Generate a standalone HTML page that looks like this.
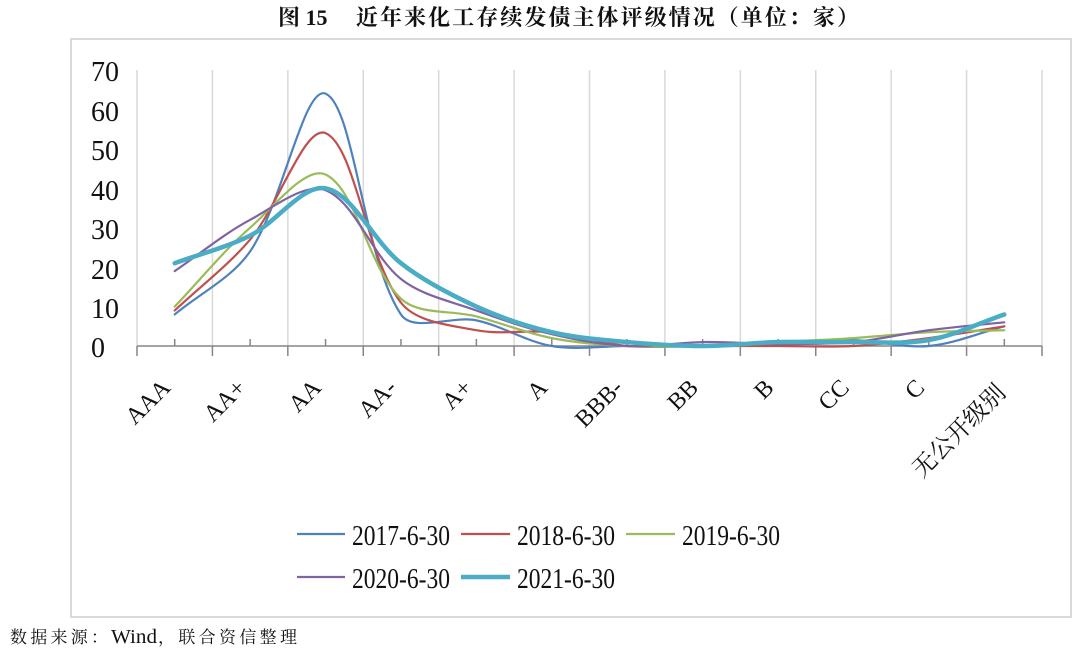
<!DOCTYPE html>
<html>
<head>
<meta charset="utf-8">
<style>
  html, body { margin:0; padding:0; background:#fff; }
  body { width:1080px; height:653px; overflow:hidden; }
  svg { display:block; }
  .ser { font-family:"Liberation Serif","Noto Serif CJK SC",serif; }
</style>
</head>
<body>
<svg id="chart" width="1080" height="653" viewBox="0 0 1080 653" xmlns="http://www.w3.org/2000/svg">
  <rect x="0" y="0" width="1080" height="653" fill="#ffffff"/>
  <!-- title -->
  <text x="278" y="25" class="ser" font-size="22" font-weight="bold" fill="#111">图 15</text>
  <text x="356" y="25" class="ser" font-size="22" font-weight="bold" fill="#111" textLength="503" lengthAdjust="spacing">近年来化工存续发债主体评级情况（单位：家）</text>

  <!-- frame -->
  <rect x="71" y="39" width="1000" height="578" fill="none" stroke="#d9d9d9" stroke-width="2"/>

  <!-- vertical gridlines -->
  <g id="grid" stroke="#d9d9d9" stroke-width="1.5"></g>

  <!-- axis -->
  <line x1="137" y1="346" x2="1042" y2="346" stroke="#868686" stroke-width="1.5"/>
  <g id="ticks" stroke="#868686" stroke-width="1.5"></g>

  <!-- y labels -->
  <g class="ser" font-size="28" fill="#111">
    <text x="91" y="81">70</text>
    <text x="91" y="121">60</text>
    <text x="91" y="160">50</text>
    <text x="91" y="200">40</text>
    <text x="91" y="239">30</text>
    <text x="91" y="279">20</text>
    <text x="91" y="318">10</text>
    <text x="91" y="357">0</text>
  </g>

  <!-- x labels -->
  <g id="xlabels" class="ser" fill="#111"></g>

  <!-- series -->
  <g id="series" fill="none" stroke-linecap="round" stroke-linejoin="round"></g>

  <!-- legend -->
  <g>
    <line x1="297" y1="534" x2="345" y2="534" stroke="#4f81bd" stroke-width="2.2"/>
    <text x="352" y="545" class="ser" font-size="28" fill="#111" textLength="98" lengthAdjust="spacingAndGlyphs">2017-6-30</text>
    <line x1="461" y1="534" x2="510" y2="534" stroke="#c0504d" stroke-width="2.2"/>
    <text x="517" y="545" class="ser" font-size="28" fill="#111" textLength="98" lengthAdjust="spacingAndGlyphs">2018-6-30</text>
    <line x1="626" y1="534" x2="675" y2="534" stroke="#9bbb59" stroke-width="2.2"/>
    <text x="682" y="545" class="ser" font-size="28" fill="#111" textLength="98" lengthAdjust="spacingAndGlyphs">2019-6-30</text>
    <line x1="297" y1="577" x2="345" y2="577" stroke="#8064a2" stroke-width="2.2"/>
    <text x="352" y="588" class="ser" font-size="28" fill="#111" textLength="98" lengthAdjust="spacingAndGlyphs">2020-6-30</text>
    <line x1="461" y1="577" x2="510" y2="577" stroke="#4bacc6" stroke-width="4.5"/>
    <text x="517" y="588" class="ser" font-size="28" fill="#111" textLength="98" lengthAdjust="spacingAndGlyphs">2021-6-30</text>
  </g>

  <!-- source -->
  <g class="ser" fill="#111">
    <text x="10" y="643" font-size="17" textLength="98" lengthAdjust="spacing">数据来源：</text>
    <text x="111" y="643" font-size="20" textLength="46" lengthAdjust="spacingAndGlyphs">Wind</text>
    <text x="158" y="643" font-size="17" textLength="139" lengthAdjust="spacing">，联合资信整理</text>
  </g>
</svg>

<script>
(function(){
  var NS = "http://www.w3.org/2000/svg";
  var X0 = 137, X1 = 1042, N = 12, W = (X1 - X0) / N;
  function X(i){ return X0 + W * (i + 0.5); }
  function Y(v){ return 346 - v * (276 / 70); }
  function el(tag, attrs, parent){
    var e = document.createElementNS(NS, tag);
    for (var k in attrs) e.setAttribute(k, attrs[k]);
    parent.appendChild(e);
    return e;
  }
  var grid = document.getElementById('grid');
  var ticks = document.getElementById('ticks');
  for (var i = 0; i <= N; i++) {
    var gx = X0 + W * i;
    el('line', {x1:gx, y1:70, x2:gx, y2:346}, grid);
    el('line', {x1:gx, y1:346, x2:gx, y2:356}, ticks);
  }
  for (var i = 0; i < N; i++) {
    el('line', {x1:X(i), y1:339, x2:X(i), y2:346}, ticks);
  }
  // x labels
  var labels = ['AAA','AA+','AA','AA-','A+','A','BBB-','BB','B','CC','C'];
  var xl = document.getElementById('xlabels');
  for (var i = 0; i < labels.length; i++) {
    var x = X(i) - 3, y = 389;
    var t = el('text', {x:x, y:y, 'font-size':24, 'text-anchor':'end',
      transform:'rotate(-45 ' + x + ' ' + y + ')'}, xl);
    t.textContent = labels[i];
  }
  var t = el('text', {x:1007, y:394, 'font-size':24, 'text-anchor':'end',
      transform:'rotate(-45 1007 394)'}, xl);
  t.textContent = '无公开级别';

  function dist(a,b){ return Math.sqrt((a[0]-b[0])*(a[0]-b[0]) + (a[1]-b[1])*(a[1]-b[1])); }
  function pathFor(vals){
    var P = vals.map(function(v,i){ return [X(i), Y(v)]; });
    var d = 'M' + P[0][0].toFixed(2) + ',' + P[0][1].toFixed(2);
    for (var i = 0; i < P.length - 1; i++) {
      var p0 = P[i-1] || P[i], p1 = P[i], p2 = P[i+1], p3 = P[i+2] || P[i+1];
      var d01 = dist(p0,p1), d12 = dist(p1,p2), d23 = dist(p2,p3);
      var s1 = d01 + d12, s2 = d12 + d23;
      var t1x = (p2[0]-p0[0]) / s1, t1y = (p2[1]-p0[1]) / s1;
      var t2x = (p3[0]-p1[0]) / s2, t2y = (p3[1]-p1[1]) / s2;
      var c1x = p1[0] + t1x * d12 / 3, c1y = p1[1] + t1y * d12 / 3;
      var c2x = p2[0] - t2x * d12 / 3, c2y = p2[1] - t2y * d12 / 3;
      d += ' C' + c1x.toFixed(2) + ',' + c1y.toFixed(2) + ' ' +
           c2x.toFixed(2) + ',' + c2y.toFixed(2) + ' ' +
           p2[0].toFixed(2) + ',' + p2[1].toFixed(2);
    }
    return d;
  }
  var series = [
    {c:'#4f81bd', w:2.2, v:[8, 24, 64, 8, 6.5, 0, 0, 0, 1, 1.5, 0, 5]},
    {c:'#c0504d', w:2.2, v:[9, 27, 54, 11, 4, 3.5, 0, 0, 0, 0, 2, 5]},
    {c:'#9bbb59', w:2.2, v:[10, 30, 43.5, 12, 7.5, 2, 0, 0, 1, 2, 3.5, 4]},
    {c:'#8064a2', w:2.2, v:[19, 32, 39.5, 17, 9, 3, 0, 1, 0.5, 1, 4, 6]},
    {c:'#4bacc6', w:4.5, v:[21, 28, 40, 21, 10, 3.5, 1, 0, 1, 1, 1.5, 8]}
  ];
  var sg = document.getElementById('series');
  series.forEach(function(s){
    el('path', {d:pathFor(s.v), stroke:s.c, 'stroke-width':s.w}, sg);
  });
})();
</script>
</body>
</html>
